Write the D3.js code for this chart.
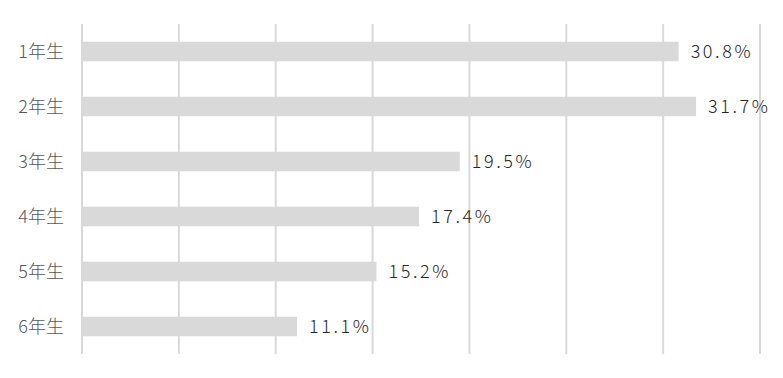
<!DOCTYPE html>
<html>
<head>
<meta charset="utf-8">
<script src="https://cdn.jsdelivr.net/npm/d3@7"></script>
<style>
  body { margin: 0; background: #fff; }
</style>
</head>
<body>
<svg width="783" height="378"></svg>
<script>
const grades = ["1年生", "2年生", "3年生", "4年生", "5年生", "6年生"];
const shares = [30.8, 31.7, 19.5, 17.4, 15.2, 11.1];
const tickValues = [0, 5, 10, 15, 20, 25, 30, 35];

const svg = d3.select("svg");
const margin = { top: 24, right: 23, bottom: 24, left: 82 };
const width = +svg.attr("width") - margin.left - margin.right;
const height = +svg.attr("height") - margin.top - margin.bottom;

const g = svg.append("g")
  .attr("transform", `translate(${margin.left},${margin.top})`);

const x = d3.scaleLinear()
  .domain([0, 35])
  .range([0, width]);

const y = d3.scaleBand()
  .domain(grades)
  .range([0, height])
  .paddingInner(0.645)
  .paddingOuter(0.3225);

// gridlines
g.append("g")
  .selectAll("line")
  .data(tickValues)
  .join("line")
  .attr("x1", d => x(d))
  .attr("x2", d => x(d))
  .attr("y1", 0)
  .attr("y2", height)
  .attr("stroke", "#d9d9d9")
  .attr("stroke-width", 2);

// bars
g.append("g")
  .selectAll("rect")
  .data(shares)
  .join("rect")
  .attr("x", x(0))
  .attr("y", (d, i) => y(grades[i]))
  .attr("width", d => x(d) - x(0))
  .attr("height", y.bandwidth())
  .attr("fill", "#d9d9d9");

// value labels
g.append("g")
  .selectAll("text")
  .data(shares)
  .join("text")
  .attr("x", d => x(d) + 12)
  .attr("y", (d, i) => y(grades[i]) + y.bandwidth() / 2)
  .attr("dy", "0.36em")
  .attr("font-family", "'Noto Sans CJK JP', sans-serif")
  .attr("font-weight", 300)
  .attr("font-size", 18)
  .attr("letter-spacing", 2.6)
  .attr("fill", "#262626")
  .text(d => d.toFixed(1) + "%");

// category axis labels
g.append("g")
  .selectAll("text")
  .data(grades)
  .join("text")
  .attr("x", -18)
  .attr("y", d => y(d) + y.bandwidth() / 2)
  .attr("dy", "0.36em")
  .attr("text-anchor", "end")
  .attr("font-family", "'Noto Sans CJK JP', sans-serif")
  .attr("font-weight", 300)
  .attr("font-size", 18)
  .attr("fill", "#595959")
  .text(d => d);
</script>
</body>
</html>
